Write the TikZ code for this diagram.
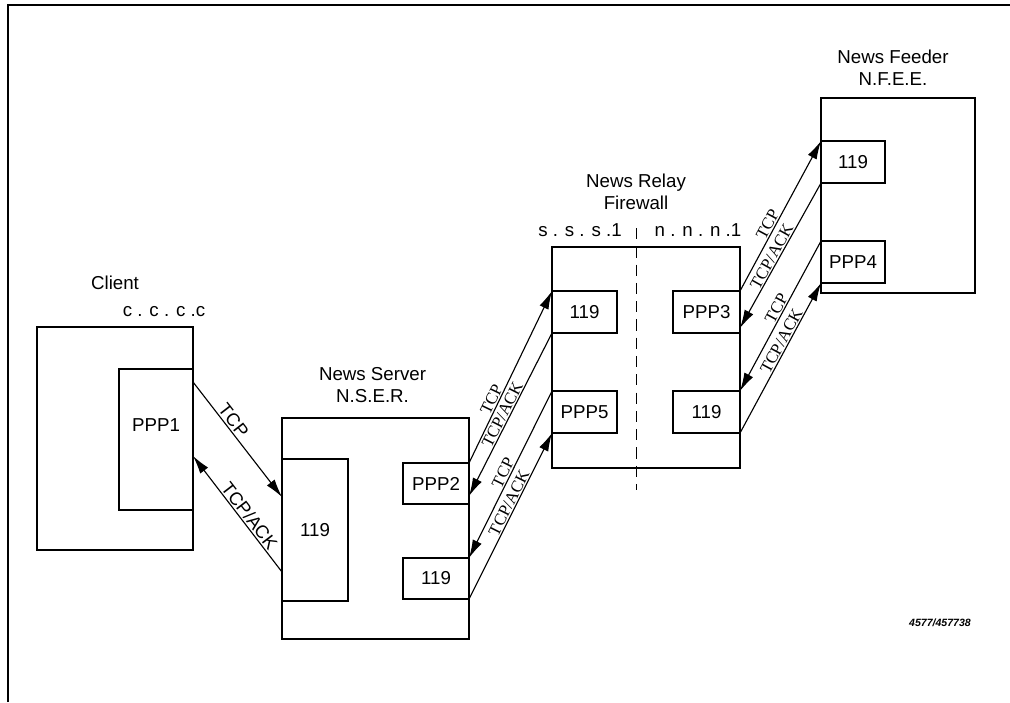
\documentclass[tikz,border=0pt]{standalone}
\usepackage{fontspec}
\setmainfont{Liberation Sans}
\newfontfamily\tcpfont{Liberation Serif}
\usetikzlibrary{positioning, arrows.meta, calc}

\begin{document}
\begin{tikzpicture}[x=0.025cm, y=-0.025cm,
        box/.style={draw, line width=1pt, rectangle, inner sep=0pt, outer sep=0pt, anchor=north west, font=\fontsize{13.3}{16}\selectfont},
        title/.style={align=center, inner sep=0pt, font=\fontsize{13.3}{15.6}\selectfont},
        arrow/.style={-{Latex[length=13pt, width=7pt]}, line width=0.8pt},
        back/.style={{Latex[length=13pt, width=7pt]}-, line width=0.8pt},
        lbl/.style={sloped, above, inner sep=1pt, font=\fontsize{13}{15}\selectfont},
        slbl/.style={sloped, above, inner sep=0.8pt, font=\tcpfont\fontsize{12}{14}\selectfont}
    ]
    \useasboundingbox (0,0) rectangle (1010,702);
    \draw[line width=1.3pt] (8,702) -- (8,5) -- (1010,5);

    % client
    \node[box, minimum width=3.9cm, minimum height=5.575cm] (client) at (37,327) {};
    \node[box, minimum width=1.85cm, minimum height=3.525cm, text depth=21pt] (ppp1) at (119,369) {PPP1};
    \node[title] (clientname) at ($(client.north)+(0,-44)$) {Client};
    \node[title] (clientaddr) at ($(client.north east)+(-29,-15)$) {c . c . c .c};

    % news server
    \node[box, minimum width=4.675cm, minimum height=5.525cm] (server) at (282,418) {};
    \node[box, minimum width=1.65cm, minimum height=3.55cm] (s119a) at (282,459) {119};
    \node[box, minimum width=1.65cm, minimum height=1.025cm] (sppp2) at (403,463) {PPP2};
    \node[box, minimum width=1.65cm, minimum height=1.025cm] (s119b) at (403,558) {119};
    \node[title, anchor=south] (servername) at ($(server.north)+(-3,-15)$) {News Server\\N.S.E.R.};

    % news relay / firewall
    \node[box, minimum width=4.7cm, minimum height=5.525cm] (relay) at (552,247) {};
    \node[box, minimum width=1.625cm, minimum height=1.05cm] (r119) at (552,291) {119};
    \node[box, minimum width=1.625cm, minimum height=1.05cm] (rppp5) at (552,391) {PPP5};
    \node[box, minimum width=1.675cm, minimum height=1.05cm] (rppp3) at (673,291) {PPP3};
    \node[box, minimum width=1.675cm, minimum height=1.05cm] (rr119) at (673,391) {119};
    \coordinate (walltop) at (636,228);
    \coordinate (wallbot) at (636,490);
    \draw[dash pattern=on 8pt off 5pt, line width=0.6pt] (walltop) -- (wallbot);
    \node[title, anchor=south] (relayname) at ($(walltop)+(0,-18)$) {News Relay\\Firewall};
    \node[title] (saddr) at ($(walltop)+(-56,2)$) {s . s . s .1};
    \node[title] (naddr) at ($(walltop)+(62,2)$) {n . n . n .1};

    % news feeder
    \node[box, minimum width=3.85cm, minimum height=4.875cm] (feeder) at (821,98) {};
    \node[box, minimum width=1.6cm, minimum height=1.05cm] (f119) at (821,141) {119};
    \node[box, minimum width=1.6cm, minimum height=1.05cm] (fppp4) at (821,241) {PPP4};
    \node[title, anchor=south] (feedername) at ($(feeder.north)+(-5,-12)$) {News Feeder\\N.F.E.E.};

    \node[font=\bfseries\itshape\fontsize{7.5}{9}\selectfont] (figid) at (940,623) {4577/457738};

    % connections
    \draw[arrow] ($(ppp1.north east)+(0,13)$) -- node[lbl, pos=0.38] {TCP} ($(server.north west)+(0,79)$);
    \draw[back] ($(ppp1.north east)+(0,87)$) -- node[lbl, pos=0.56] {TCP/ACK} ($(server.north west)+(0,154)$);

    \draw[arrow] (sppp2.north east) -- node[slbl, pos=0.35] {TCP} (r119.north west);
    \draw[back] ($(sppp2.north east)+(0,33)$) -- node[slbl, pos=0.48] {TCP/ACK} (r119.south west);
    \draw[back] (s119b.north east) -- node[slbl, pos=0.49] {TCP} (rppp5.north west);
    \draw[arrow] (s119b.south east) -- node[slbl, pos=0.56] {TCP/ACK} (rppp5.south west);

    \draw[arrow] (rppp3.north east) -- node[slbl, pos=0.42] {TCP} (f119.north west);
    \draw[back] ($(rppp3.north east)+(0,37)$) -- node[slbl, pos=0.47] {TCP/ACK} (f119.south west);
    \draw[back] (rr119.north east) -- node[slbl, pos=0.53] {TCP} (fppp4.north west);
    \draw[arrow] (rr119.south east) -- node[slbl, pos=0.59] {TCP/ACK} (fppp4.south west);
\end{tikzpicture}
\end{document}
